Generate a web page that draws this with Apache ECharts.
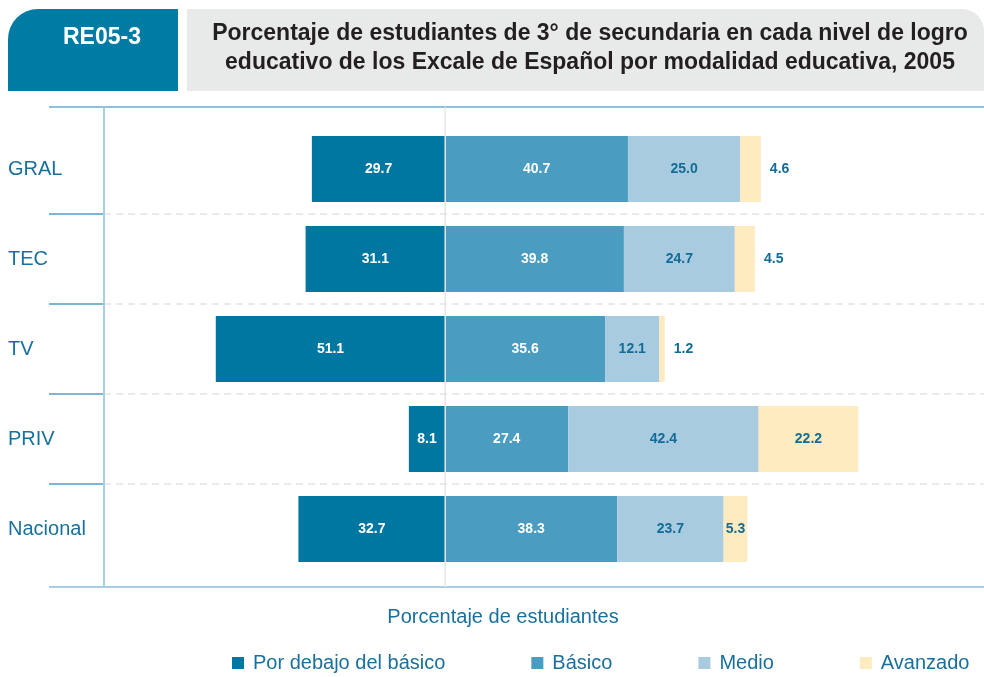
<!DOCTYPE html>
<html>
<head>
<meta charset="utf-8">
<script src="https://cdn.jsdelivr.net/npm/echarts@6/dist/echarts.min.js"></script>
<style>
  html, body { margin: 0; padding: 0; background: #fff; }
  #chart { width: 984px; height: 677px; }
</style>
</head>
<body>
<div id="chart"></div>
<script>
// datos (porcentaje de estudiantes)
const categorias = ['GRAL', 'TEC', 'TV', 'PRIV', 'Nacional'];
const porDebajo = [29.7, 31.1, 51.1, 8.1, 32.7];
const basico = [40.7, 39.8, 35.6, 27.4, 38.3];
const medio = [25.0, 24.7, 12.1, 42.4, 23.7];
const avanzado = [4.6, 4.5, 1.2, 22.2, 5.3];
const niveles = ['Por debajo del básico', 'Básico', 'Medio', 'Avanzado'];

const colores = ['#0077a0', '#4a9cc0', '#a8cbdf', '#feebc0'];
const azulTexto = '#19709c';
const etiquetaOscura = '#136c97';

const gridTop = 124, gridH = 450, gridLeft = 104;

const chart = echarts.init(document.getElementById('chart'));

const fmt = p => Math.abs(p.value).toFixed(1);

const etiqueta = color => ({
  show: true,
  position: 'inside',
  color: color,
  fontSize: 14,
  fontWeight: 'bold',
  fontFamily: 'Liberation Sans, Arial, sans-serif',
  formatter: fmt
});

// avanzado: valores pequeños con etiqueta fuera de la barra
const avanzadoData = avanzado.map(v => v < 5
  ? { value: v, label: { position: 'right', distance: 9 } }
  : v);

// marco y líneas de la cuadrícula
const band = gridH / categorias.length;
const lineas = [];
for (let i = 1; i < categorias.length; i++) {
  const y = gridTop + band * i;
  lineas.push({ type: 'line', shape: { x1: 49, y1: y, x2: gridLeft, y2: y },
    style: { stroke: '#4f9fc6', lineWidth: 1.5 } });
}
lineas.push({ type: 'line', shape: { x1: 49, y1: 107, x2: 984, y2: 107 },
  style: { stroke: '#8fc0d9', lineWidth: 2 } });
lineas.push({ type: 'line', shape: { x1: 49, y1: 587, x2: 984, y2: 587 },
  style: { stroke: '#a9cee1', lineWidth: 2 } });
lineas.push({ type: 'line', shape: { x1: gridLeft, y1: 107, x2: gridLeft, y2: 587 },
  style: { stroke: '#a9cee1', lineWidth: 2 } });

const option = {
  animation: false,
  textStyle: { fontFamily: 'Liberation Sans, Arial, sans-serif' },
  grid: { left: gridLeft, right: 0, top: gridTop, height: gridH, outerBoundsMode: 'none' },
  legend: {
    data: niveles,
    left: 227,
    top: 648,
    icon: 'rect',
    itemWidth: 12,
    itemHeight: 12,
    itemGap: 86,
    textStyle: { fontSize: 20, color: azulTexto, padding: [0, 0, 0, 4] }
  },
  xAxis: {
    type: 'value',
    min: -76,
    max: 120,
    axisLine: { show: false },
    axisTick: { show: false },
    axisLabel: { show: false },
    splitLine: { show: false }
  },
  yAxis: {
    type: 'category',
    data: categorias,
    inverse: true,
    axisLine: { show: false },
    axisTick: { show: false },
    axisLabel: { align: 'left', margin: 96, fontSize: 20, color: azulTexto, padding: [3, 0, 0, 0] },
    splitLine: {
      show: true,
      showMinLine: false,
      showMaxLine: false,
      lineStyle: { color: '#e4e4e4', width: 1.5, type: [7, 5] }
    }
  },
  series: [
    {
      name: niveles[0], type: 'bar', stack: 'total', barWidth: 66,
      data: porDebajo.map(v => -v),
      itemStyle: { color: colores[0] },
      label: etiqueta('#ffffff')
    },
    {
      name: niveles[1], type: 'bar', stack: 'total', barWidth: 66,
      data: basico,
      itemStyle: { color: colores[1] },
      label: etiqueta('#ffffff')
    },
    {
      name: niveles[2], type: 'bar', stack: 'total', barWidth: 66,
      data: medio,
      itemStyle: { color: colores[2] },
      label: etiqueta(etiquetaOscura)
    },
    {
      name: niveles[3], type: 'bar', stack: 'total', barWidth: 66,
      data: avanzadoData,
      itemStyle: { color: colores[3] },
      label: etiqueta(etiquetaOscura)
    }
  ]
};

chart.setOption(option);

// línea del cero
const x0 = chart.convertToPixel({ xAxisIndex: 0 }, 0);

chart.setOption({
  graphic: [
    // encabezado
    { type: 'rect', shape: { x: 8, y: 9, width: 170, height: 82, r: [30, 0, 0, 0] },
      style: { fill: '#007ca4' } },
    { type: 'text', x: 102, y: 38,
      style: { text: 'RE05-3', fill: '#ffffff', font: 'bold 23px Liberation Sans, Arial, sans-serif',
        align: 'center', verticalAlign: 'middle' } },
    { type: 'rect', shape: { x: 187, y: 9, width: 797, height: 82, r: [0, 22, 0, 0] },
      style: { fill: '#e8e9e9' } },
    { type: 'text', x: 590, y: 48,
      style: {
        text: 'Porcentaje de estudiantes de 3° de secundaria en cada nivel de logro\neducativo de los Excale de Español por modalidad educativa, 2005',
        fill: '#231f20', font: 'bold 23px Liberation Sans, Arial, sans-serif',
        lineHeight: 29, align: 'center', verticalAlign: 'middle' } },
    ...lineas,
    { type: 'line', z: 100, shape: { x1: x0, y1: 107, x2: x0, y2: 587 },
      style: { stroke: '#e6e6e6', lineWidth: 1.5 } },
    { type: 'text', x: 503, y: 617,
      style: { text: 'Porcentaje de estudiantes', fill: azulTexto,
        font: '20px Liberation Sans, Arial, sans-serif', align: 'center', verticalAlign: 'middle' } }
  ]
});

window.addEventListener('resize', () => chart.resize());
</script>
</body>
</html>
